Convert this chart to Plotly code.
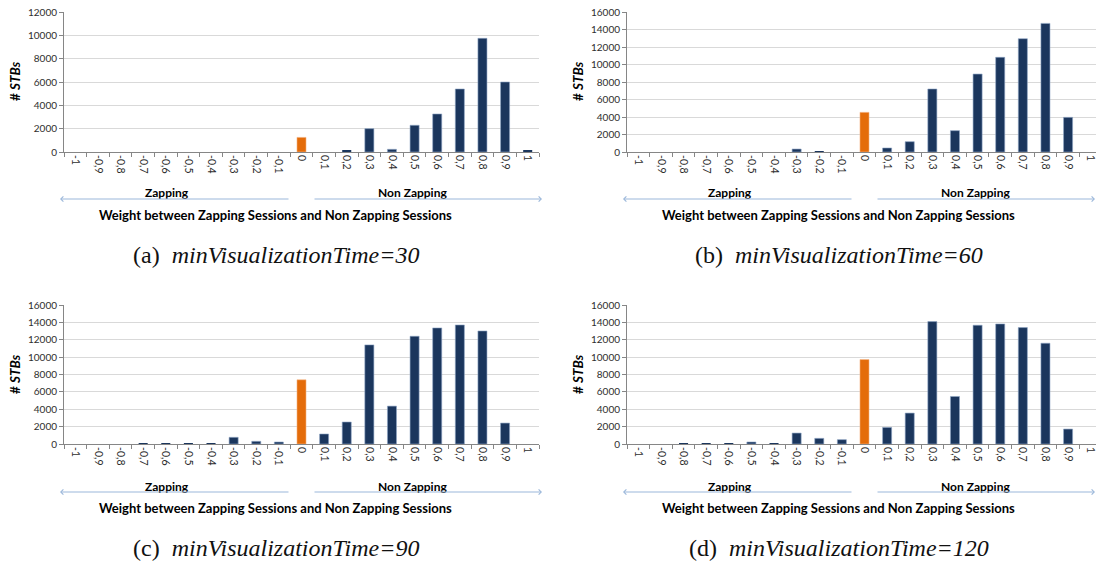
import plotly.graph_objects as go

# Weight between zapping and non-zapping sessions (category labels)
weights = ["-1", "-0,9", "-0,8", "-0,7", "-0,6", "-0,5", "-0,4", "-0,3", "-0,2", "-0,1",
           "0", "0,1", "0,2", "0,3", "0,4", "0,5", "0,6", "0,7", "0,8", "0,9", "1"]

# Number of STBs per weight, one list per minVisualizationTime
stbs_30 = [0, 0, 0, 0, 0, 0, 0, 0, 0, 0,
           1250, 0, 130, 2000, 230, 2290, 3260, 5400, 9740, 6000, 110]
stbs_60 = [0, 0, 0, 0, 0, 0, 0, 340, 100, 0,
           4530, 460, 1180, 7200, 2440, 8910, 10820, 12950, 14700, 3960, 0]
stbs_90 = [0, 0, 0, 10, 10, 110, 40, 770, 310, 230,
           7390, 1150, 2530, 11410, 4360, 12400, 13360, 13700, 13010, 2410, 0]
stbs_120 = [0, 0, 10, 20, 50, 230, 60, 1260, 650, 500,
            9720, 1910, 3560, 14090, 5470, 13670, 13820, 13400, 11600, 1720, 0]

panel_letters = ["a", "b", "c", "d"]
min_visualization_times = [30, 60, 90, 120]
y_maxima = [12000, 16000, 16000, 16000]
series = [stbs_30, stbs_60, stbs_90, stbs_120]

W, H = 1096, 567
NAVY = "#1B365D"
ORANGE = "#E46C0A"
AXIS_GREY = "#868686"
GRID_GREY = "#D9D9D9"
ARROW_BLUE = "#9BB7DA"
TICK_TEXT = "#2E2E2E"
SANS = "Lato"
SERIF = "Liberation Serif"

# pixel geometry of each panel: left edge, top, bottom of plot area
panel_left = [64, 627, 64, 627]
panel_top = [12, 12, 305, 305]
panel_bottom = [152, 152, 444, 444]
CAT_W = 475 / 21.0  # pixel width of one category


def px(x):
    return x / W


def py(y):
    return 1 - y / H


fig = go.Figure()
layout = dict(
    width=W, height=H, autosize=False,
    margin=dict(l=0, r=0, t=0, b=0, pad=0),
    paper_bgcolor="white", plot_bgcolor="white",
    showlegend=False, bargap=0.6,
)
annotations = []

for i, (letter, mvt, ymax, vals) in enumerate(zip(panel_letters, min_visualization_times, y_maxima, series)):
    n = "" if i == 0 else str(i + 1)
    left, top, bottom = panel_left[i], panel_top[i], panel_bottom[i]
    right = min(left + 21 * CAT_W, W)
    x_hi = -0.5 + (right - left) / CAT_W
    dx = left - 64
    dy = top - 12

    colors = [ORANGE if w == "0" else NAVY for w in weights]
    edges = ["#F4B183" if w == "0" else "#8EA6C6" for w in weights]
    edge_w = [0.6 if v >= 150 else 0 for v in vals]
    fig.add_trace(go.Bar(
        x=weights, y=vals, xaxis="x" + n, yaxis="y" + n,
        marker=dict(color=colors, line=dict(color=edges, width=edge_w)),
        hoverinfo="x+y",
    ))

    layout["xaxis" + n] = dict(
        domain=[px(left), px(right)], anchor="y" + n, type="category",
        categoryorder="array", categoryarray=weights,
        range=[-0.5, x_hi], automargin=False,
        showline=True, linecolor=AXIS_GREY, linewidth=1,
        ticks="outside", tickson="boundaries", ticklen=4, tickcolor=AXIS_GREY,
        tickangle=90, tickfont=dict(family=SANS, size=10.5, color=TICK_TEXT),
        showgrid=False, zeroline=False, fixedrange=True,
    )
    layout["yaxis" + n] = dict(
        domain=[py(bottom), py(top)], anchor="x" + n,
        range=[0, ymax], dtick=2000, tickformat="d", automargin=False,
        showline=True, linecolor=AXIS_GREY, linewidth=1,
        ticks="outside", ticklen=4, tickcolor=AXIS_GREY,
        tickfont=dict(family=SANS, size=10, color=TICK_TEXT),
        showgrid=True, gridcolor=GRID_GREY, gridwidth=1,
        zeroline=False, fixedrange=True,
    )

    def note(x, y, text, size=12, family=SANS, angle=0, color="black"):
        annotations.append(dict(
            xref="paper", yref="paper", x=px(x), y=py(y), text=text,
            showarrow=False, xanchor="center", yanchor="middle",
            textangle=angle, font=dict(family=family, size=size, color=color),
        ))

    note(15 + dx, 81 + dy, "<b># <i>STBs</i></b>", size=13.5, angle=-90)
    note(167 + dx, 193 + dy, "<b>Zapping</b>", size=12)
    note(412 + dx, 193 + dy, "<b>Non Zapping</b>", size=12)
    note(275 + dx, 215 + dy, "<b>Weight between Zapping Sessions and Non Zapping Sessions</b>", size=13)
    note(276 + dx, 255 + dy,
         "(" + letter + ")\u00a0\u00a0<i>minVisualizationTime=" + str(mvt) + "</i>",
         size=24, family=SERIF, color="#111111")

    # direction arrows under the category labels
    for tip, tail in ((60, 290), (542, 313)):
        annotations.append(dict(
            xref="paper", yref="paper", x=px(tip + dx), y=py(199 + dy),
            ax=tail - tip, ay=0, text="", showarrow=True,
            arrowhead=4, arrowsize=1, arrowwidth=1, arrowcolor=ARROW_BLUE,
        ))

layout["annotations"] = annotations
fig.update_layout(**layout)
fig.write_html("out.html")
